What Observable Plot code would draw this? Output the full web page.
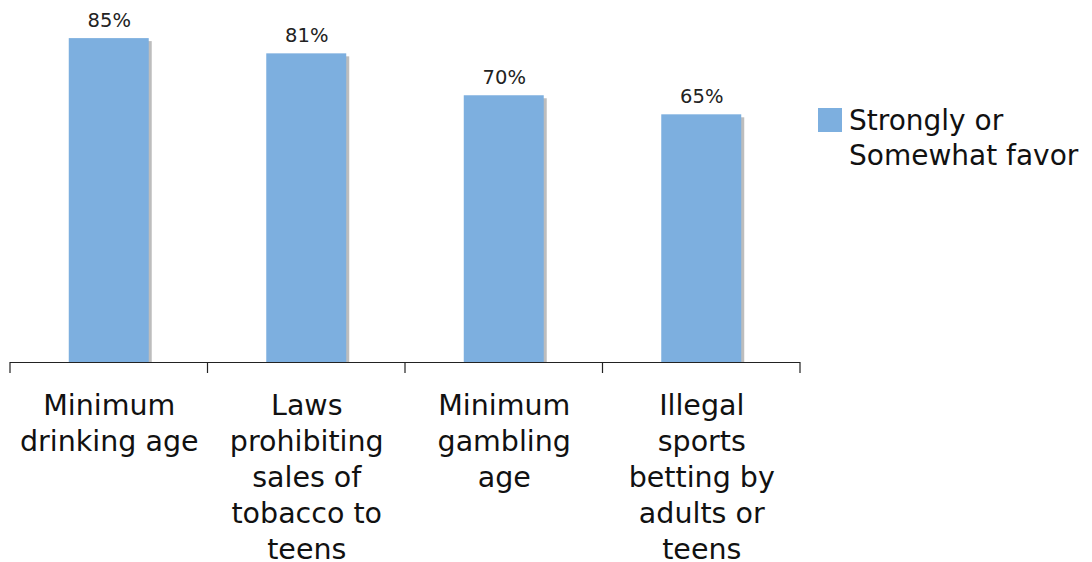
<!DOCTYPE html>
<html>
<head>
<meta charset="utf-8">
<script src="https://cdn.jsdelivr.net/npm/d3@7"></script>
<script src="https://cdn.jsdelivr.net/npm/@observablehq/plot@0.6"></script>
<style>
  html, body { margin: 0; padding: 0; background: #fff; }
  #wrap { position: relative; width: 1092px; height: 562px; font-family: "DejaVu Sans", Verdana, sans-serif; }
  #legend { position: absolute; left: 818px; top: 103px; display: flex; align-items: flex-start; font-size: 28px; line-height: 35px; color: #111; }
  #legend .sw { width: 24px; height: 24px; margin-top: 5px; margin-right: 7px; flex: none; }
</style>
</head>
<body>
<div id="wrap"></div>
<script>
const categories = ["Minimum drinking age", "Laws prohibiting sales of tobacco to teens", "Minimum gambling age", "Illegal sports betting by adults or teens"];
const categoryLabels = ["Minimum\ndrinking age", "Laws\nprohibiting\nsales of\ntobacco to\nteens", "Minimum\ngambling\nage", "Illegal\nsports\nbetting by\nadults or\nteens"];
const favor = [85, 81, 70, 65];
const seriesName = "Strongly or\nSomewhat favor";
const barColor = "#7dafdf";
const shadowColor = "#bdbdbd";

const data = categories.map((c, i) => ({category: c, value: favor[i]}));
const labelMap = new Map(categories.map((c, i) => [c, categoryLabels[i]]));
const padInner = 0.595;

function boundaryTicks(index, scales) {
  const x = scales.x;
  const xs = categories.map(c => x(c));
  const step = xs[1] - xs[0];
  const bw = step * (1 - padInner);
  const pos = xs.map(v => v + bw / 2 - step / 2).concat([xs[xs.length - 1] + bw / 2 + step / 2]);
  const y0 = scales.y(0);
  const g = d3.create("svg:g");
  g.selectAll("line").data(pos).join("line")
    .attr("x1", d => d).attr("x2", d => d)
    .attr("y1", y0).attr("y2", y0 + 11)
    .attr("stroke", "#222").attr("stroke-width", 1.2);
  return g.node();
}

const chart = Plot.plot({
  width: 1092,
  height: 562,
  marginLeft: 10,
  marginRight: 292,
  marginTop: 0,
  marginBottom: 200,
  style: {fontFamily: "DejaVu Sans, Verdana, sans-serif", background: "#fff", color: "#111"},
  x: {domain: categories, paddingInner: padInner, paddingOuter: padInner / 2, axis: null, round: false},
  y: {domain: [0, 95], axis: null},
  marks: [
    Plot.barY(data, {x: "category", y: "value", fill: shadowColor, dx: 3, insetTop: 3}),
    Plot.barY(data, {x: "category", y: "value", fill: barColor}),
    Plot.text(data, {x: "category", y: "value", text: d => d.value + "%", dy: -18, fontSize: 19.5, fill: "#222"}),
    Plot.ruleY([0], {stroke: "#222", strokeWidth: 1.2}),
    boundaryTicks,
    Plot.axisX({tickSize: 0, tickPadding: 27, fontSize: 28.5, lineHeight: 1.263, label: null, tickFormat: d => labelMap.get(d), fill: "#111"})
  ]
});

const wrap = document.getElementById("wrap");
wrap.appendChild(chart);
const legend = document.createElement("div");
legend.id = "legend";
const sw = document.createElement("div");
sw.className = "sw";
sw.style.background = barColor;
const lab = document.createElement("div");
lab.innerHTML = seriesName.split("\n").join("<br>");
legend.appendChild(sw);
legend.appendChild(lab);
wrap.appendChild(legend);
</script>
</body>
</html>
